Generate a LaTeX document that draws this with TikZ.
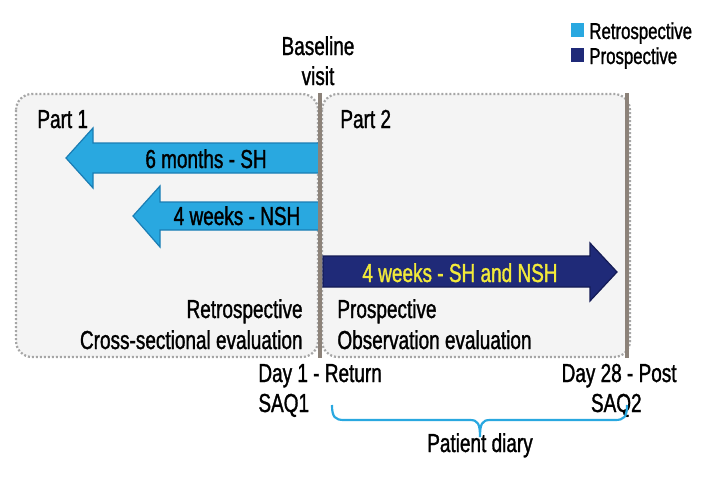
\documentclass[tikz,border=0pt]{standalone}
\usepackage{fontspec}
\setmainfont{Liberation Sans}[FakeStretch=0.73,FakeBold=1.2]
\usepackage{xcolor}
\definecolor{retro}{HTML}{29A8E0}
\definecolor{retroedge}{HTML}{1A7DB4}
\definecolor{prosp}{HTML}{1F2A78}
\definecolor{prospedge}{HTML}{141B55}
\definecolor{bar}{HTML}{8C8279}
\definecolor{boxfill}{HTML}{F4F4F4}
\definecolor{txtyellow}{HTML}{F2EA3A}

\begin{document}
\begin{tikzpicture}[x=0.5pt,y=-0.5pt,
	txt/.style={inner sep=0pt,font=\fontsize{13}{15}\selectfont},
	legtxt/.style={inner sep=0pt,font=\fontsize{11.5}{13}\selectfont},
	partbox/.style={draw=gray!70,fill=boxfill,rounded corners=8pt,line width=1.1pt,dash pattern=on 1pt off 1pt}]
	\useasboundingbox (0,0) rectangle (713,482);
	% the two parts
	\draw[partbox] (16,94) rectangle (318,357);
	\draw[partbox] (322,94) rectangle (630,357);
	% arrows
	\filldraw[fill=retro,draw=retroedge,line width=0.6pt] (320,143) -- (93,143) -- (93,128) -- (66,158) -- (93,188) -- (93,173) -- (320,173) -- cycle;
	\filldraw[fill=retro,draw=retroedge,line width=0.6pt] (320,202) -- (160,202) -- (160,186) -- (133,216) -- (160,247) -- (160,230) -- (320,230) -- cycle;
	\filldraw[fill=prosp,draw=prospedge,line width=0.6pt] (323,256) -- (590,256) -- (590,243) -- (617,272) -- (590,301) -- (590,287) -- (323,287) -- cycle;
	% time bars
	\draw[bar,line width=2pt] (320,93) -- (320,358);
	\draw[bar,line width=2pt] (627,93) -- (627,358);
	% texts
	\node[txt,anchor=base] (baseline) at (318,55) {Baseline};
	\node[txt,anchor=base] (visit) at (318,85) {visit};
	\node[txt,anchor=base west] (part1) at (37,128) {Part 1};
	\node[txt,anchor=base west] (part2) at (340,128) {Part 2};
	\node[txt,anchor=base] (sixmonths) at (206,168) {6 months - SH};
	\node[txt,anchor=base] (fourweeks) at (237,225) {4 weeks - NSH};
	\node[txt,anchor=base,text=txtyellow] (prospweeks) at (460,282) {4 weeks - SH and NSH};
	\node[txt,anchor=base east] (retro) at (303,318) {Retrospective};
	\node[txt,anchor=base east] (cross) at (303,349) {Cross-sectional evaluation};
	\node[txt,anchor=base west] (prosp) at (337,318) {Prospective};
	\node[txt,anchor=base west] (observ) at (337,349) {Observation evaluation};
	\node[txt,anchor=base west] (dayone) at (258,382) {Day 1 - Return};
	\node[txt,anchor=base west] (saqone) at (258,412) {SAQ1};
	\node[txt,anchor=base east] (daypost) at (677,382) {Day 28 - Post};
	\node[txt,anchor=base east] (saqtwo) at (642,412) {SAQ2};
	\node[txt,anchor=base] (diary) at (480,452) {Patient diary};
	% diary brace
	\coordinate (bl) at (332,405);
	\coordinate (br) at (627,405);
	\coordinate (btip) at (480,437);
	\draw[retro,line width=1.1pt] (bl) .. controls (332,417) and (335,420) .. (344,420) -- (470,420)
		.. controls (478,420) and (480,424) .. (btip) .. controls (480,424) and (482,420) .. (490,420)
		-- (615,420) .. controls (624,420) and (627,417) .. (br);
	% legend
	\fill[retro] (571,23) rectangle (584,37);
	\fill[prosp] (571,48) rectangle (584,62);
	\node[legtxt,anchor=base west] (legretro) at (589,39) {Retrospective};
	\node[legtxt,anchor=base west] (legprosp) at (589,64) {Prospective};
\end{tikzpicture}
\end{document}
